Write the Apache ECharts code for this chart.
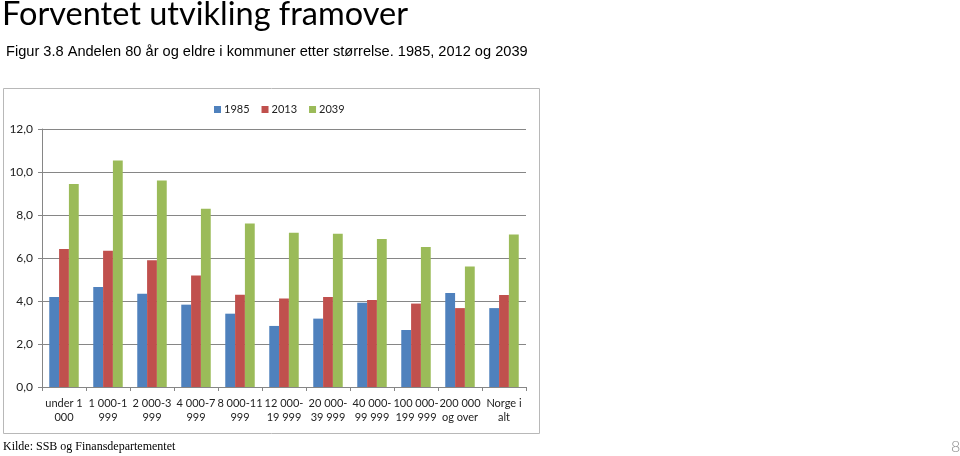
<!DOCTYPE html>
<html>
<head>
<meta charset="utf-8">
<script src="https://cdn.jsdelivr.net/npm/echarts@6/dist/echarts.min.js"></script>
<style>
html,body{margin:0;padding:0;background:#fff;}
#chart{width:960px;height:456px;}
</style>
</head>
<body>
<div id="chart"></div>
<script>
const categories = ["under 1\n000","1 000-1\n999","2 000-3\n999","4 000-7\n999","8 000-11\n999","12 000-\n19 999","20 000-\n39 999","40 000-\n99 999","100 000-\n199 999","200 000\nog over","Norge i\nalt"];
const seriesNames = ["1985","2013","2039"];
const values1985 = [4.19,4.65,4.34,3.83,3.41,2.84,3.18,3.92,2.65,4.37,3.67];
const values2013 = [6.42,6.34,5.89,5.19,4.29,4.12,4.19,4.05,3.88,3.67,4.28];
const values2039 = [9.44,10.53,9.61,8.29,7.60,7.18,7.13,6.88,6.51,5.61,7.09];
const yTicks = {min:0, max:12, interval:2};
const colors = ["#4F81BD","#C0504D","#9BBB59"];

const chart = echarts.init(document.getElementById('chart'), null, {renderer:'canvas'});
const chartFont = 'Lato';
chart.setOption({
  animation:false,
  backgroundColor:'#fff',
  color:colors,
  title:[
    {text:'Forventet utvikling framover', left:-3, top:-7,
     textStyle:{fontFamily:'Lato', fontSize:32.5, fontWeight:'normal', color:'#000'}},
    {text:'Figur 3.8 Andelen 80 år og eldre i kommuner etter størrelse. 1985, 2012 og 2039', left:1, top:39,
     textStyle:{fontFamily:'Liberation Sans', fontSize:14.6, fontWeight:'normal', color:'#000'}},
    {text:'Kilde: SSB og Finansdepartementet', left:-2, top:436,
     textStyle:{fontFamily:'Liberation Serif', fontSize:12, fontWeight:'normal', color:'#000'}},
    {text:'8', left:946, top:434,
     textStyle:{fontFamily:'Lato', fontSize:16, fontWeight:'300', color:'#8c8c8c'}}
  ],
  graphic:[
    {type:'rect', shape:{x:3.5, y:88.5, width:536, height:345}, style:{fill:'none', stroke:'#b8b8b8', lineWidth:1}, z:-1}
  ],
  legend:{
    data:seriesNames, left:209, top:99, itemWidth:7, itemHeight:7, itemGap:12,
    icon:'rect',
    textStyle:{fontFamily:chartFont, fontSize:11, color:'#222', padding:[0,0,0,-2]}
  },
  grid:{left:42, right:434, top:129, bottom:69, containLabel:false},
  xAxis:{
    type:'category', data:categories, boundaryGap:true,
    axisLine:{lineStyle:{color:'#868686', width:1}},
    axisTick:{show:true, alignWithLabel:false, length:4, lineStyle:{color:'#868686'}},
    axisLabel:{interval:0, fontFamily:chartFont, fontSize:11, color:'#222', lineHeight:14, margin:9}
  },
  yAxis:{
    type:'value', min:yTicks.min, max:yTicks.max, interval:yTicks.interval,
    axisLine:{show:true, lineStyle:{color:'#868686'}},
    axisTick:{show:true, length:4, lineStyle:{color:'#868686'}},
    splitLine:{lineStyle:{color:'#868686', width:1}},
    axisLabel:{fontFamily:chartFont, fontSize:12, color:'#222', margin:9,
      formatter:v=>v.toFixed(1).replace('.',',')}
  },
  series:[
    {name:seriesNames[0], type:'bar', data:values1985, barGap:'0%', barCategoryGap:'33%'},
    {name:seriesNames[1], type:'bar', data:values2013, barGap:'0%', barCategoryGap:'33%'},
    {name:seriesNames[2], type:'bar', data:values2039, barGap:'0%', barCategoryGap:'33%'}
  ]
});
</script>
</body>
</html>
